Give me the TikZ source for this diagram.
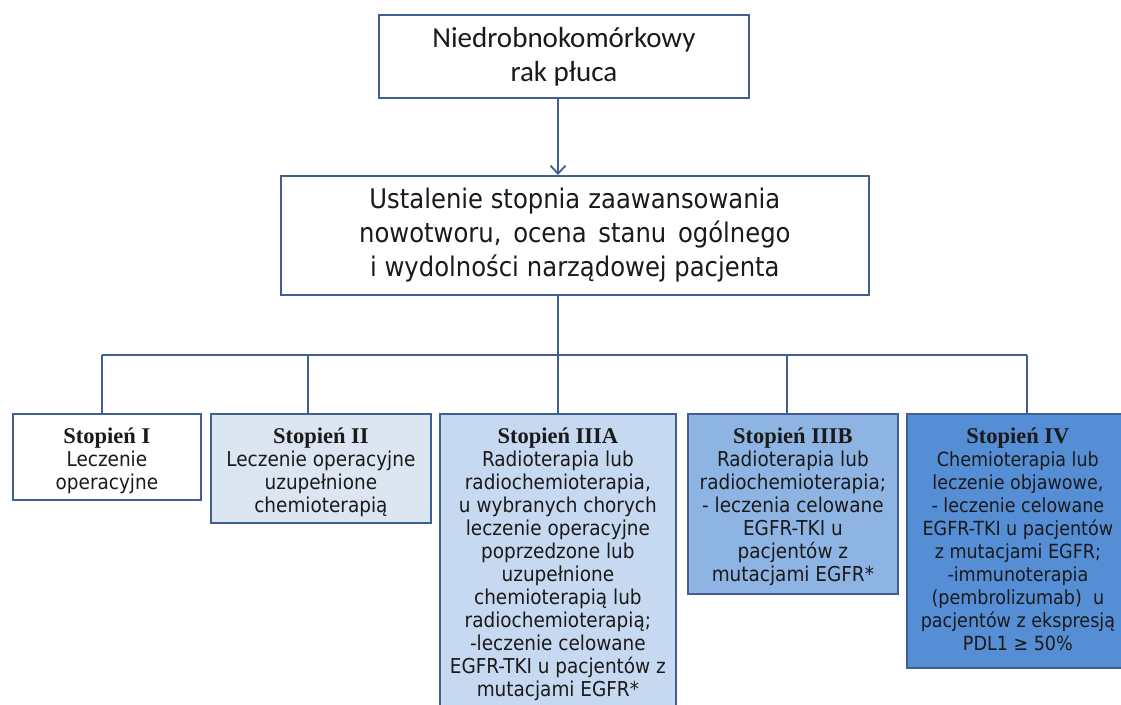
\documentclass[tikz,border=0pt]{standalone}
\usepackage{fontspec}
\usetikzlibrary{arrows.meta}
\newfontfamily\bodyf{DejaVu Sans Condensed}
\newfontfamily\topf{Carlito}
\newfontfamily\ttlf{Liberation Serif}
\definecolor{edgec}{HTML}{3F5F93}
\definecolor{fII}{HTML}{DCE6F2}
\definecolor{fIIIA}{HTML}{C6D9F1}
\definecolor{fIIIB}{HTML}{8EB4E3}
\definecolor{fIV}{HTML}{558ED5}
\definecolor{txt}{HTML}{1A1A1A}
\newcommand{\stitle}[1]{{\ttlf\bfseries\fontsize{22.5}{23}\selectfont #1}}
\begin{document}
\begin{tikzpicture}[x=1pt,y=-1pt,
  box/.style={draw=edgec, line width=1.8pt, inner sep=0pt, anchor=north west},
  conn/.style={draw=edgec, line width=1.8pt},
  stxt/.style={anchor=north, inner sep=0pt, align=center, text=txt,
    font=\bodyf\fontsize{20.5}{23}\selectfont}]
\clip (0,0) rectangle (1121,704);
\fill[white] (0,0) rectangle (1121,704);

% top boxes
\node[box, fill=white, minimum width=370pt, minimum height=83pt, align=center,
  text=txt, font=\topf\fontsize{29}{34}\selectfont] (top) at (378,14)
  {Niedrobnokomórkowy\\rak płuca};
\node[box, fill=white, minimum width=588pt, minimum height=119pt, align=center,
  text=txt, font=\bodyf\fontsize{27}{34}\selectfont] (mid) at (280,175)
  {Ustalenie stopnia\hspace{0.3em}zaawansowania\\nowotworu,\hspace{0.15em} ocena\hspace{0.15em} stanu\hspace{0.15em} ogólnego\\i wydolności\hspace{0.3em}narządowej pacjenta};

\coordinate (ax) at (558,0);
\draw[conn, -{Straight Barb[length=8pt,width=15pt,line width=1.8pt]}] (ax |- top.south) -- (ax |- mid.north);

% stage boxes
\node[box, fill=white, minimum width=188pt, minimum height=86pt] (s1) at (12,413) {};
\node[box, fill=fII, minimum width=220pt, minimum height=109pt] (s2) at (210,413) {};
\node[box, fill=fIIIA, minimum width=236pt, minimum height=320pt] (s3) at (439,413) {};
\node[box, fill=fIIIB, minimum width=210pt, minimum height=180pt] (s4) at (687,413) {};
\node[box, fill=fIV, minimum width=230pt, minimum height=254pt] (s5) at (906,413) {};

\node[stxt] (t1) at ([yshift=-15pt]s1.north) {\stitle{Stopień I}\\Leczenie\\operacyjne};
\node[stxt] (t2) at ([yshift=-15pt]s2.north) {\stitle{Stopień II}\\Leczenie operacyjne\\uzupełnione\\chemioterapią};
\node[stxt] (t3) at ([yshift=-15pt]s3.north) {\stitle{Stopień IIIA}\\Radioterapia lub\\radiochemioterapia,\\u wybranych chorych\\leczenie operacyjne\\poprzedzone lub\\uzupełnione\\chemioterapią lub\\radiochemioterapią;\\-leczenie celowane\\EGFR-TKI u pacjentów z\\mutacjami EGFR*};
\node[stxt] (t4) at ([yshift=-15pt]s4.north) {\stitle{Stopień IIIB}\\Radioterapia lub\\radiochemioterapia;\\- leczenia celowane\\EGFR-TKI u\\pacjentów z\\mutacjami EGFR*};
\node[stxt, font=\bodyf\fontsize{19.5}{23}\selectfont] (t5) at ([xshift=-4pt,yshift=-15pt]s5.north) {\stitle{Stopień IV}\\Chemioterapia lub\\leczenie objawowe,\\- leczenie celowane\\EGFR-TKI u pacjentów\\z mutacjami EGFR;\\-immunoterapia\\(pembrolizumab)\ \ u\\pacjentów z ekspresją\\PDL1 ≥ 50\%};

% bus
\coordinate (bus) at (558,355);
\coordinate (b1) at (102,355);
\coordinate (b2) at (308,355);
\coordinate (b4) at (787,355);
\coordinate (b5) at (1027,355);
\draw[conn] (ax |- mid.south) -- (bus);
\draw[conn] (b1) -- (b5);
\draw[conn] (b1) -- (b1 |- s1.north);
\draw[conn] (b2) -- (b2 |- s2.north);
\draw[conn] (bus) -- (bus |- s3.north);
\draw[conn] (b4) -- (b4 |- s4.north);
\draw[conn] (b5) -- (b5 |- s5.north);
\end{tikzpicture}
\end{document}
